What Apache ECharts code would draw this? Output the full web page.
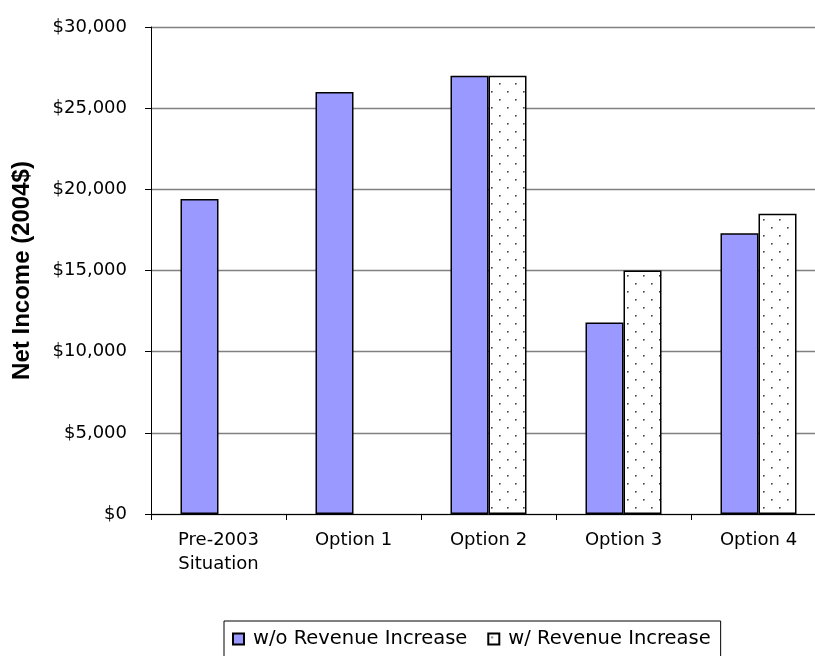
<!DOCTYPE html>
<html>
<head>
<meta charset="utf-8">
<script src="https://cdn.jsdelivr.net/npm/echarts@6/dist/echarts.min.js"></script>
<style>html,body{margin:0;padding:0;background:#fff;overflow:hidden;width:815px;height:656px;}#c{width:830px;height:656px;}</style>
</head>
<body>
<div id="c"></div>
<script>
var categories = ['Pre-2003\nSituation', 'Option 1', 'Option 2', 'Option 3', 'Option 4'];
var seriesNames = ['w/o Revenue Increase', 'w/ Revenue Increase'];
var withoutIncrease = [19400, 26000, 27000, 11800, 17300];
var withIncrease = [null, null, 27000, 15000, 18500];
var yTicks = [0, 5000, 10000, 15000, 20000, 25000, 30000];

// dotted pattern
var pc = document.createElement('canvas');
pc.width = 16; pc.height = 16;
var ctx = pc.getContext('2d');
ctx.fillStyle = '#ffffff';
ctx.fillRect(0, 0, 16, 16);
ctx.fillStyle = '#404040';
ctx.fillRect(3, 3, 1.6, 1.6);
ctx.fillRect(11, 11, 1.6, 1.6);

var chart = echarts.init(document.getElementById('c'), null, {renderer: 'canvas'});
var labelFont = 'DejaVu Sans';
chart.setOption({
  animation: false,
  backgroundColor: '#ffffff',
  grid: {left: 151, top: 27, right: 4, bottom: 142, containLabel: false},
  legend: {
    left: 224, top: 621,
    data: seriesNames,
    icon: 'rect',
    itemWidth: 11, itemHeight: 11, itemGap: 20,
    padding: [8, 10, 8, 8],
    borderColor: '#000', borderWidth: 1,
    textStyle: {fontFamily: labelFont, fontSize: 19.5, color: '#000', padding: [0, 0, 0, 4]}
  },
  xAxis: {
    type: 'category',
    data: categories,
    axisLine: {lineStyle: {color: '#000', width: 1}},
    axisTick: {show: true, length: 6, alignWithLabel: false, interval: 0, lineStyle: {color: '#000'}},
    axisLabel: {fontFamily: labelFont, fontSize: 18, color: '#000', margin: 14, lineHeight: 24, interval: 0,
      align: 'center', width: 130, overflow: 'none'}
  },
  yAxis: {
    type: 'value',
    min: yTicks[0], max: yTicks[yTicks.length - 1], interval: yTicks[1] - yTicks[0],
    name: 'Net Income (2004$)',
    nameLocation: 'middle',
    nameGap: 117,
    nameRotate: 90,
    nameTextStyle: {fontFamily: 'Liberation Sans', fontWeight: 'bold', fontSize: 24, color: '#000'},
    axisLine: {show: true, lineStyle: {color: '#000', width: 1}},
    axisTick: {show: true, length: 6, lineStyle: {color: '#000'}},
    axisLabel: {
      fontFamily: labelFont, fontSize: 18, color: '#000', margin: 24,
      formatter: function (v) { return '$' + v.toLocaleString('en-US'); }
    },
    splitLine: {show: true, lineStyle: {color: '#808080', width: 1.3}}
  },
  series: [
    {
      name: seriesNames[0], type: 'bar', data: withoutIncrease,
      barWidth: 38, barGap: '0%',
      itemStyle: {color: '#9999FF', borderColor: '#000', borderWidth: 1.5}
    },
    {
      name: seriesNames[1], type: 'bar', data: withIncrease,
      barWidth: 38, barGap: '0%',
      itemStyle: {color: {image: pc, repeat: 'repeat'}, borderColor: '#000', borderWidth: 1.5}
    }
  ]
});
</script>
</body>
</html>
